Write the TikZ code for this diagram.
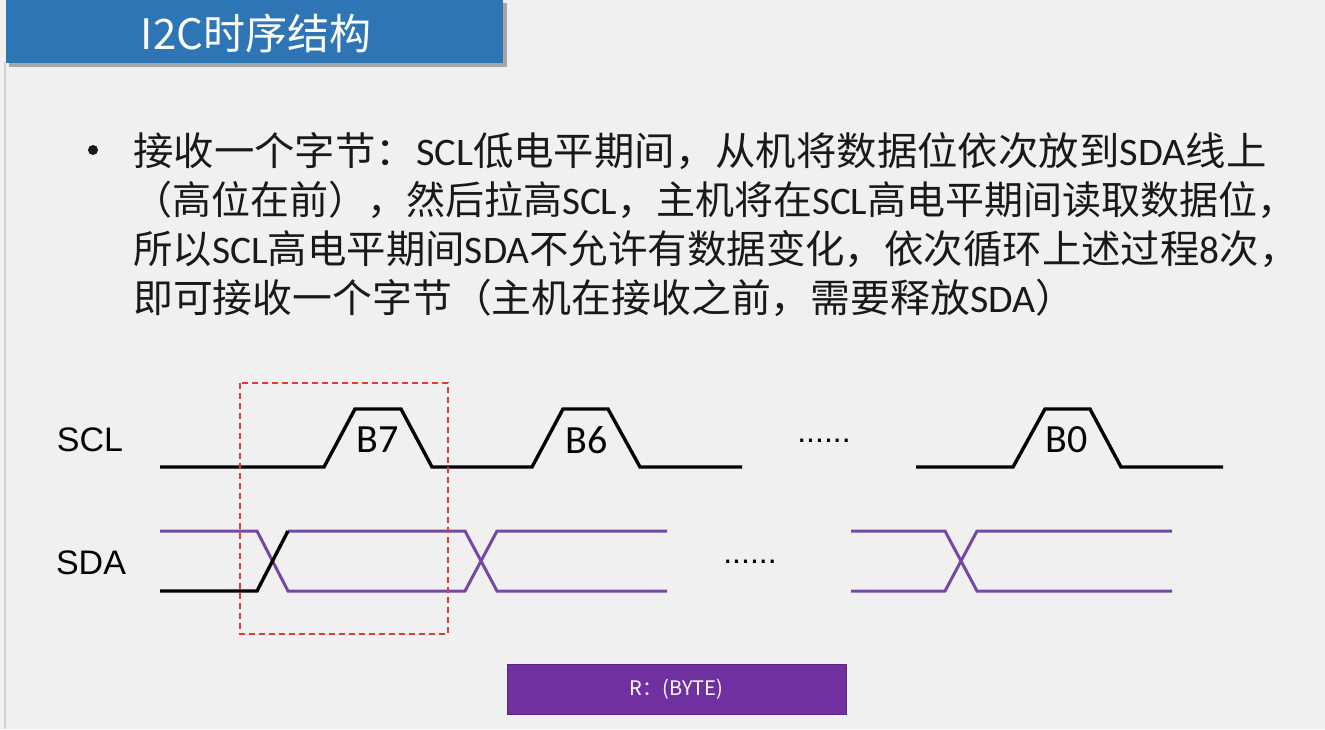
\documentclass[tikz,border=0pt]{standalone}
\usepackage{fontspec}
\setmainfont{Noto Sans CJK SC}
\newfontfamily\cjkf{Noto Sans CJK SC}
\newfontfamily\latf{Carlito}
\newfontfamily\arialf{Liberation Sans}
\newcommand\La[1]{{\latf #1}}
\definecolor{bg}{RGB}{240,240,240}
\definecolor{titleblue}{RGB}{46,117,182}
\definecolor{wavepurple}{RGB}{118,72,166}
\definecolor{boxpurple}{RGB}{112,48,160}
\definecolor{dashred}{RGB}{226,60,50}
\definecolor{txtc}{RGB}{25,25,25}
\tikzset{
  bodytxt/.style={anchor=base west, inner sep=0pt, text=txtc, font=\cjkf\fontsize{39}{39}\selectfont, transform shape},
  sig/.style={anchor=center, inner sep=0pt, text=black, font=\arialf\fontsize{34}{34}\selectfont},
  bitlbl/.style={anchor=center, inner sep=0pt, text=black, font=\latf\fontsize{40}{40}\selectfont},
  sclwave/.style={line width=3.4pt, black, line join=miter},
  sdawave/.style={line width=3pt, wavepurple, line join=miter},
  sdablack/.style={line width=3.4pt, black, line join=miter},
  dotsty/.style={anchor=base, inner sep=0pt, text=black, font=\arialf\fontsize{32}{32}\selectfont},
}
\begin{document}
\begin{tikzpicture}[x=1pt,y=-1pt]
\useasboundingbox (0,0) rectangle (1325,729);
\fill[bg] (0,0) rectangle (1325,729);
\draw[line width=1.2pt, black!18] (5,62) -- (5,729);
% title bar
\fill[black!35] (9,3) rectangle (507,67);
\fill[titleblue] (6,0) rectangle (503,63);
\node[anchor=center, inner sep=0pt, text=white, font=\cjkf\fontsize{42}{42}\selectfont] (title) at (256,33) {I2C时序结构};
% bullet text
\fill[txtc] (93,150) circle (5);
\node[bodytxt, xscale=1.036] (l1) at (133,165) {接收一个字节：\La{SCL}低电平期间，从机将数据位依次放到\La{SDA}线上};
\node[bodytxt] (l2) at (133,214) {（高位在前），然后拉高\La{SCL}，主机将在\La{SCL}高电平期间读取数据位，};
\node[bodytxt, xscale=1.011] (l3) at (133,263) {所以\La{SCL}高电平期间\La{SDA}不允许有数据变化，依次循环上述过程\La{8}次，};
\node[bodytxt, xscale=1.022] (l4) at (133,312) {即可接收一个字节（主机在接收之前，需要释放\La{SDA}）};
% signal names
\node[sig] (scl) at (90,440) {SCL};
\node[sig] (sda) at (91,563) {SDA};
% SCL waveform
\draw[sclwave] (160,467) -- (324,467) -- (355,409) -- (401,409) -- (432,467) -- (532,467) -- (563,409) -- (608,409) -- (640,467) -- (742,467);
\draw[sclwave] (916,467) -- (1013,467) -- (1045,409) -- (1090,409) -- (1121,467) -- (1223,467);
\node[bitlbl] (b7) at (378,440) {B7};
\node[bitlbl] (b6) at (587,440) {B6};
\node[bitlbl] (b0) at (1067,440) {B0};
\node[dotsty] (dots1) at (824,442) {......};
% SDA waveform
\draw[sdawave] (160,531) -- (257,531) -- (288,591) -- (465,591) -- (497,531) -- (667,531);
\draw[sdawave] (288,531) -- (465,531) -- (497,591) -- (667,591);
\draw[sdablack] (160,591) -- (257,591) -- (288,531);
\draw[sdawave] (851,531) -- (945,531) -- (977,591) -- (1172,591);
\draw[sdawave] (851,591) -- (945,591) -- (977,531) -- (1172,531);
\node[dotsty] (dots2) at (750,563) {......};
% red dashed frame
\draw[dashred, line width=1.3pt, dash pattern=on 6pt off 4pt] (240,383) rectangle (448,634);
% purple box
\node[draw=boxpurple!80!black, line width=0.8pt, fill=boxpurple, minimum width=339pt, minimum height=50pt, inner sep=0pt, text=white, font=\cjkf\fontsize{20}{20}\selectfont] (rbyte) at (676.5,689) {R：(BYTE)};
\end{tikzpicture}
\end{document}
